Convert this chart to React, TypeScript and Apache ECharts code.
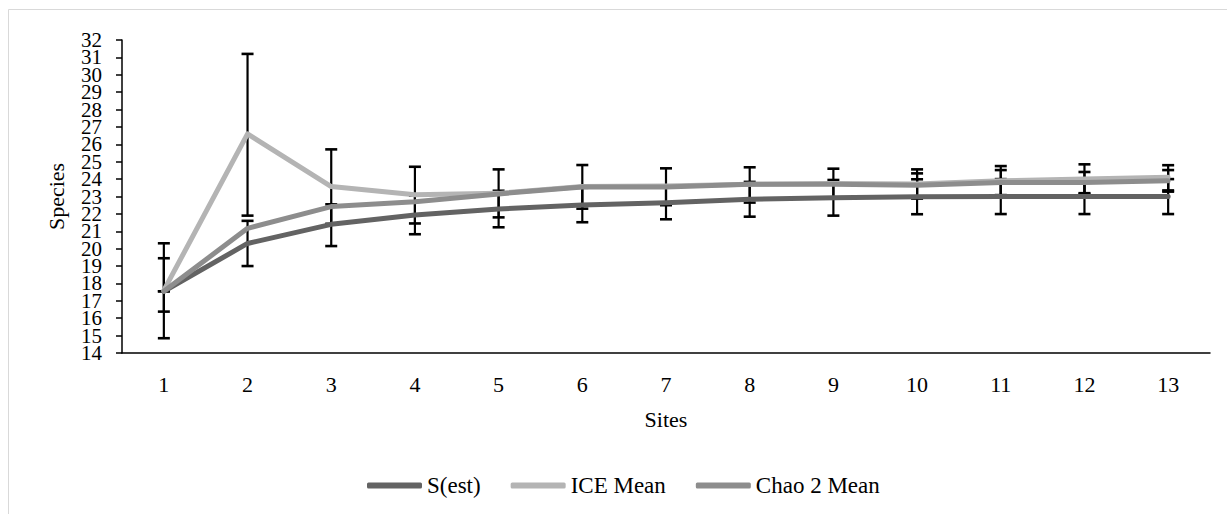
import React, { useEffect, useRef } from "react";
import * as echarts from "echarts";

const sites = ["1", "2", "3", "4", "5", "6", "7", "8", "9", "10", "11", "12", "13"];
const yTicks = { min: 14, max: 32, interval: 1 };

const sEst = [17.55, 20.3, 21.4, 21.94, 22.28, 22.51, 22.64, 22.84, 22.93, 22.98, 23.0, 23.0, 23.0];
const iceMean = [17.6, 26.6, 23.57, 23.1, 23.18, 23.57, 23.6, 23.7, 23.75, 23.72, 23.9, 24.0, 24.1];
const chao2Mean = [17.55, 21.17, 22.42, 22.7, 23.15, 23.55, 23.55, 23.7, 23.7, 23.65, 23.8, 23.8, 23.9];

const sEstLow = [14.85, 19.0, 20.15, 20.83, 21.23, 21.52, 21.69, 21.84, 21.9, 21.98, 21.99, 21.99, 21.99];
const sEstHigh = [20.31, 21.6, 22.55, 23.05, 23.33, 23.5, 23.59, 23.84, 23.95, 23.99, 24.0, 24.0, 24.0];
const iceLow = [16.38, 21.9, 21.43, 21.45, 21.8, 22.3, 22.5, 22.65, 22.9, 22.88, 23.05, 23.15, 23.35];
const iceHigh = [19.45, 31.2, 25.71, 24.71, 24.56, 24.81, 24.62, 24.68, 24.6, 24.56, 24.75, 24.85, 24.8];
const chaoLow = [17.55, null, null, null, null, null, null, null, null, 22.97, 23.08, 23.19, 23.28];
const chaoHigh = [17.55, null, null, null, null, null, null, null, null, 24.33, 24.52, 24.41, 24.52];

const FONT = "Liberation Serif";

function errData(low: (number | null)[], high: (number | null)[]) {
  const out: number[][] = [];
  low.forEach((l, i) => {
    const h = high[i];
    if (l != null && h != null) out.push([i, l, h]);
  });
  return out;
}

function renderErr(params: any, api: any) {
  const x = api.value(0);
  const lo = api.coord([x, api.value(1)]);
  const hi = api.coord([x, api.value(2)]);
  const half = 6;
  const style = { stroke: "#000", lineWidth: 2.2 };
  return {
    type: "group",
    children: [
      { type: "line", shape: { x1: lo[0], y1: lo[1], x2: hi[0], y2: hi[1] }, style },
      { type: "line", shape: { x1: lo[0] - half, y1: lo[1], x2: lo[0] + half, y2: lo[1] }, style: { ...style, lineWidth: 2.6 } },
      { type: "line", shape: { x1: hi[0] - half, y1: hi[1], x2: hi[0] + half, y2: hi[1] }, style: { ...style, lineWidth: 2.6 } },
    ],
  };
}

function errSeries(name: string, low: (number | null)[], high: (number | null)[]) {
  return {
    type: "custom",
    name,
    z: 1,
    renderItem: renderErr,
    encode: { x: 0, y: [1, 2] },
    data: errData(low, high),
    silent: true,
  };
}

function lineSeries(name: string, data: number[], color: string, z: number) {
  return {
    type: "line",
    name,
    data,
    z,
    symbol: "none",
    showSymbol: false,
    lineStyle: { color, width: 5, cap: "round", join: "round" },
    itemStyle: { color },
  };
}

const yLabelStyle = {
  fontFamily: FONT,
  fontSize: 21,
  lineHeight: 12,
  color: "#000",
  margin: 20,
  hideOverlap: false,
};

export default function App() {
  const ref = useRef<HTMLDivElement>(null);
  useEffect(() => {
    if (!ref.current) return;
    const chart = echarts.init(ref.current, null, { renderer: "svg" });
    chart.setOption({
      animation: false,
      backgroundColor: "#ffffff",
      textStyle: { fontFamily: FONT, color: "#000" },
      graphic: [
        {
          type: "rect",
          shape: { x: 8.5, y: 9.5, width: 1260, height: 540 },
          style: { fill: "none", stroke: "#d9d9d9", lineWidth: 1 },
          silent: true,
          z: -1,
        },
      ],
      grid: { left: 122, top: 40, right: 17, bottom: 161, containLabel: false },
      legend: {
        left: 367,
        top: 474,
        padding: 0,
        icon: "roundRect",
        itemWidth: 55,
        itemHeight: 6,
        itemGap: 30,
        data: ["S(est)", "ICE Mean", "Chao 2 Mean"],
        textStyle: { fontFamily: FONT, fontSize: 23, color: "#000", padding: [0, 0, 0, 0] },
      },
      xAxis: {
        type: "category",
        data: sites,
        boundaryGap: true,
        name: "Sites",
        nameLocation: "middle",
        nameGap: 55,
        nameTextStyle: { fontFamily: FONT, fontSize: 22, color: "#000" },
        axisLine: { lineStyle: { color: "#000", width: 1.5 } },
        axisTick: { alignWithLabel: true, length: 6, lineStyle: { color: "#000", width: 1.5 } },
        axisLabel: { fontFamily: FONT, fontSize: 22, color: "#000", margin: 20 },
        splitLine: { show: false },
      },
      yAxis: [
        {
          type: "value",
          min: yTicks.min,
          max: yTicks.max,
          interval: yTicks.interval,
          name: "Species",
          nameLocation: "middle",
          nameGap: 55,
          nameRotate: 90,
          nameTextStyle: { fontFamily: FONT, fontSize: 22, color: "#000000" },
          axisLine: { show: true, lineStyle: { color: "#000", width: 1.5 } },
          axisTick: { show: false },
          axisLabel: { ...yLabelStyle, showMinLabel: false, showMaxLabel: false },
          splitLine: { show: false },
        },
        {
          type: "value",
          position: "left",
          offset: 0,
          min: yTicks.min,
          max: yTicks.max,
          interval: yTicks.interval,
          axisLine: { show: false },
          axisTick: { show: true, length: 6, lineStyle: { color: "#000", width: 1.5 } },
          axisLabel: {
            ...yLabelStyle,
            showMinLabel: true,
            showMaxLabel: true,
            formatter: (v: number) => (v === yTicks.min || v === yTicks.max ? String(v) : ""),
          },
          splitLine: { show: false },
        },
      ],
      series: [
        errSeries("errS", sEstLow, sEstHigh),
        errSeries("errICE", iceLow, iceHigh),
        errSeries("errChao", chaoLow, chaoHigh),
        lineSeries("S(est)", sEst, "#636363", 3),
        lineSeries("ICE Mean", iceMean, "#b4b4b4", 4),
        lineSeries("Chao 2 Mean", chao2Mean, "#8d8d8d", 5),
      ],
    });
    return () => chart.dispose();
  }, []);
  return (
    <div
      ref={ref}
      style={{ position: "fixed", left: 0, top: 0, width: 1227, height: 514, background: "#fff" }}
    />
  );
}
